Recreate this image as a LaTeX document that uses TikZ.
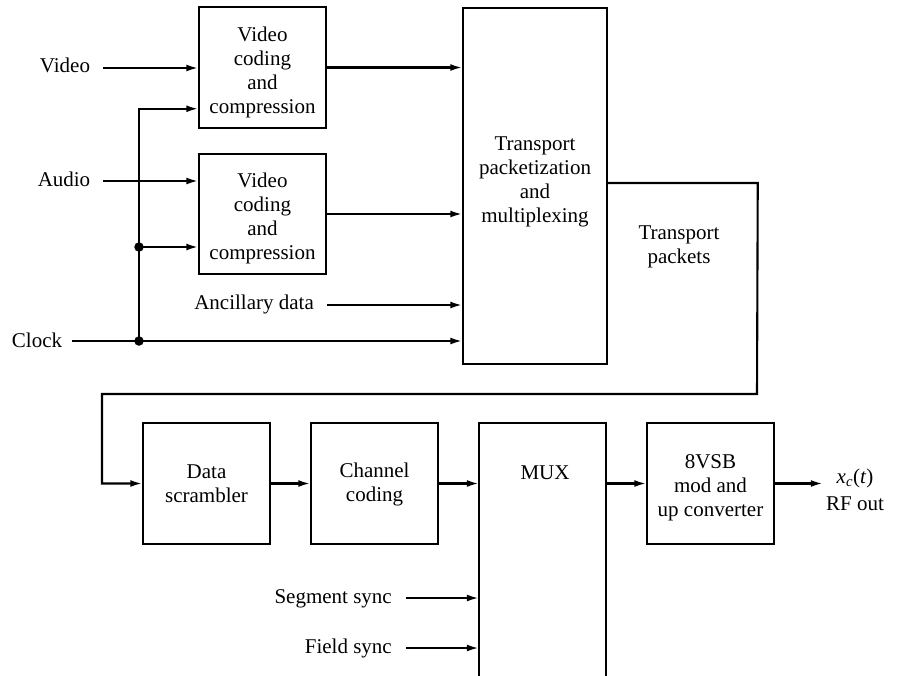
\documentclass[tikz,border=0pt]{standalone}
\usepackage{fontspec}
\setmainfont{Liberation Serif}
\usetikzlibrary{arrows.meta}
\begin{document}
\begin{tikzpicture}[x=1pt,y=-1pt,
  every node/.style={font=\fontsize{21}{24}\selectfont, inner sep=0pt},
  blk/.style={draw, line width=1.5pt},
  txt/.style={align=center},
  lbl/.style={text height=15pt, text depth=5pt},
  conn/.style={line width=2.1pt},
  arr/.style={conn, -{Latex[length=12pt,width=7pt]}},
  dot/.style={circle, fill, minimum size=9.5pt, inner sep=0pt}]
\useasboundingbox (0,0) rectangle (902,675);

% blocks
\node[blk, minimum width=127pt, minimum height=121pt] (b1) at (262.5,67.5) {};
\node[txt] (b1t) at ([yshift=-4.5pt]b1.center) {Video\\coding\\and\\compression};
\node[blk, minimum width=127pt, minimum height=120pt] (b2) at (262.5,214) {};
\node[txt] (b2t) at ([yshift=-4pt]b2.center) {Video\\coding\\and\\compression};
\node[blk, minimum width=144pt, minimum height=356pt] (tp) at (535,186) {};
\node[txt] (tpt) at (535,182) {Transport\\packetization\\and\\multiplexing};
\node[blk, minimum width=127pt, minimum height=121pt] (scr) at (206.5,483.5) {};
\node[txt] (scrt) at ([yshift=-0.5pt]scr.center) {Data\\scrambler};
\node[blk, minimum width=127pt, minimum height=121pt] (ch) at (374.5,483.5) {};
\node[txt] (cht) at ([yshift=-0.5pt]ch.center) {Channel\\coding};
\node[minimum width=127pt, minimum height=254pt] (mux) at (542.5,550) {};
\draw[line width=1.5pt] (mux.south west) -- (mux.north west) -- (mux.north east) -- (mux.south east);
\node[lbl] (muxlbl) at (545,474) {MUX};
\node[blk, minimum width=127pt, minimum height=121pt] (vsb) at (710.5,483.5) {};
\node[txt] (vsbt) at ([yshift=-4pt]vsb.center) {8VSB\\mod and\\up converter};

% labels
\node[lbl] (video) at (65,67) {Video};
\node[lbl] (audio) at (64,181.5) {Audio};
\node[lbl] (clock) at (37,342) {Clock};
\node[lbl, anchor=east] (anc) at (314,304) {Ancillary data};
\node[lbl, anchor=east] (seg) at (392,598) {Segment sync};
\node[lbl, anchor=east] (fld) at (392,648) {Field sync};
\node[txt] (tpk) at (679,247) {Transport\\packets};
\node[lbl] (xc) at (855,478) {\textit{x}\textsubscript{\textit{c}}(\textit{t})};
\node[lbl] (rf) at (855,505) {RF out};

% free ends and junctions
\coordinate (vin) at (103,68);
\coordinate (ain) at (103,181);
\coordinate (cin) at (72,341);
\coordinate (ancin) at (327,305);
\coordinate (ssin) at (406,598);
\coordinate (fsin) at (406,648);
\node[dot] (j1) at (139,247) {};
\node[dot] (j2) at (139,341) {};

% connectors
\draw[arr] (vin) -- (b1.west |- vin);
\draw[arr] (ain) -- (b2.west |- ain);
\draw[conn] (cin) -- (j2.center);
\draw[arr] (j2.center) -- (tp.west |- j2);
\draw[conn] (j2.center) -- (j1.center);
\draw[arr] (j1.center) |- ([yshift=20pt]b1.south west);
\draw[arr] (j1.center) -- (b2.west |- j1);
\draw[arr] (b1.east) -- (tp.west |- b1.east);
\draw[arr] (b2.east) -- (tp.west |- b2.east);
\draw[arr] (ancin) -- (tp.west |- ancin);
\draw[arr] ([yshift=3pt]tp.east) -- ++(150,0) -- (757,394) -- (102,394) |- (scr.west);
\draw[arr] (scr.east) -- (ch.west);
\draw[arr] (ch.east) -- (ch.east -| mux.west);
\draw[arr] (ssin) -- (ssin -| mux.west);
\draw[arr] (fsin) -- (fsin -| mux.west);
\draw[arr] (vsb.west -| mux.east) -- (vsb.west);
\draw[arr] (vsb.east) -- ++(48,0);
\end{tikzpicture}
\end{document}
